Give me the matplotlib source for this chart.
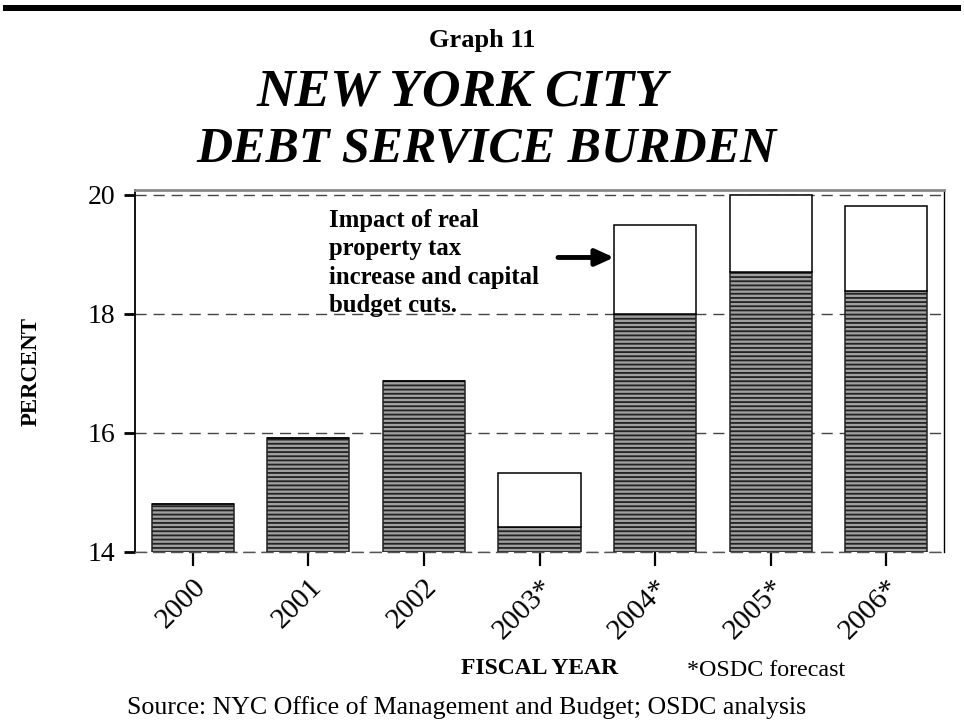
import matplotlib
matplotlib.use("Agg")
import matplotlib.pyplot as plt
from matplotlib.patches import Rectangle
import numpy as np

years = ["2000", "2001", "2002", "2003*", "2004*", "2005*", "2006*"]
base_values = [14.80, 15.92, 16.87, 14.42, 18.00, 18.70, 18.39]
total_values = [14.80, 15.92, 16.87, 15.33, 19.50, 20.00, 19.82]
impact = [t - b for t, b in zip(total_values, base_values)]
yticks = [14, 16, 18, 20]

plt.rcParams['font.family'] = ['Liberation Serif', 'DejaVu Serif']
plt.rcParams['hatch.linewidth'] = 1.3
plt.rcParams['hatch.color'] = '#222222'

fig = plt.figure(figsize=(9.64, 7.26), dpi=100)
fig.patches.append(Rectangle((3/964, 1-11/726), 958/964, 6/726, transform=fig.transFigure,
                             facecolor='black', edgecolor='none'))

ax = fig.add_axes([135/964, 1-552/726, 809/964, 362/726])
x = np.arange(len(years))
w = 0.71
ax.bar(x, base_values, width=w, bottom=0, color='#a0a0a0', edgecolor='#222222',
       linewidth=1.1, hatch='----', zorder=3)
ax.bar(x, impact, width=w, bottom=base_values, color='white', edgecolor='black',
       linewidth=1.1, zorder=3)

ax.set_xlim(-0.5, 6.5)
ax.set_ylim(14, 20.084)
ax.set_yticks(yticks)
ax.set_yticklabels([str(v) for v in yticks], fontsize=20)
ax.set_xticks(x)
ax.set_xticklabels(years, fontsize=21, rotation=45, ha='right', va='top',
                   rotation_mode='anchor')
ax.tick_params(axis='y', direction='out', length=8, width=2, pad=6, color='black')
ax.tick_params(axis='x', direction='out', length=10, width=1.6, pad=6, color='black')

ax.yaxis.grid(True, linestyle=(0, (8, 5)), color='#444444', linewidth=1.0, zorder=0)
ax.set_axisbelow(True)
ax.spines['left'].set_linewidth(1.3)
ax.spines['left'].set_color('black')
ax.spines['right'].set_linewidth(1.0)
ax.spines['right'].set_color('black')
ax.spines['top'].set_linewidth(2.0)
ax.spines['top'].set_color('#888888')
ax.spines['bottom'].set_linestyle((0, (8, 5)))
ax.spines['bottom'].set_color('#555555')
ax.spines['bottom'].set_linewidth(1.0)

ax.set_ylabel("PERCENT", fontsize=16.5, fontweight='bold')
ax.yaxis.set_label_coords(-0.115, 0.5)

ax.text(0.2395, 0.948, "Impact of real\nproperty tax\nincrease and capital\nbudget cuts.",
        transform=ax.transAxes, fontsize=17.8, fontweight='bold', va='top', ha='left',
        linespacing=1.3)
ax.annotate("", xy=(4 - w/2, 18.95), xytext=(3.16, 18.95),
            arrowprops=dict(arrowstyle='-|>,head_width=0.5,head_length=1.1',
                            color='black', lw=3.5, shrinkA=0, shrinkB=0,
                            capstyle='round'), zorder=5)

fig.text(0.50, 1-40/726, "Graph 11", ha='center', va='center', fontsize=19, fontweight='bold')
fig.text(0.479, 1-93/726, "NEW YORK CITY", ha='center', va='center', fontsize=38.5,
         fontweight='bold', fontstyle='italic')
fig.text(0.505, 1-150/726, "DEBT SERVICE BURDEN", ha='center', va='center', fontsize=36,
         fontweight='bold', fontstyle='italic')
fig.text(540/964, 1-668/726, "FISCAL YEAR", ha='center', va='center', fontsize=17,
         fontweight='bold')
fig.text(687/964, 1-670/726, "*OSDC forecast", ha='left', va='center', fontsize=17.3)
fig.text(467/964, 1-708/726, "Source: NYC Office of Management and Budget; OSDC analysis",
         ha='center', va='center', fontsize=18.6)

fig.savefig("out.png", dpi=100)
